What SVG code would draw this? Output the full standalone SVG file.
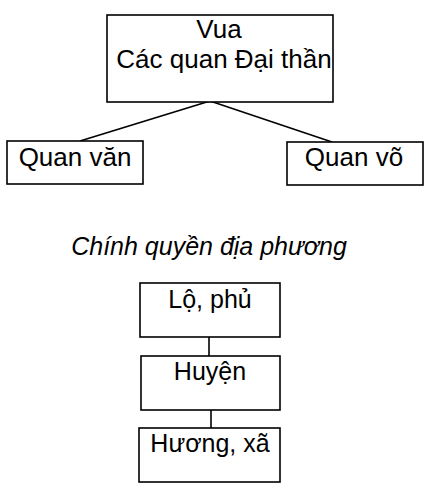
<svg xmlns="http://www.w3.org/2000/svg" width="430" height="500" viewBox="0 0 430 500">
<style>
.box{fill:#fff;stroke:#000;stroke-width:1.6}
.t{font-family:"Liberation Sans",Arial,sans-serif;font-size:25px;fill:#000;text-anchor:middle}
.lg{font-size:26px}
.i{font-style:italic}
.c{stroke:#000;stroke-width:1.6;fill:none}
</style>
<rect width="430" height="500" fill="#fff"/>
<g id="connectors">
<line class="c" x1="210" y1="101" x2="80" y2="141"/>
<line class="c" x1="210" y1="101" x2="332" y2="142"/>
<line class="c" x1="209" y1="337" x2="209" y2="356"/>
<line class="c" x1="211" y1="410" x2="211" y2="428"/>
</g>
<g id="vua">
<rect class="box" x="107" y="15" width="226" height="87"/>
<text class="t lg" x="219" y="38">Vua</text>
<text class="t lg" x="224" y="68">Các quan Đại thần</text>
</g>
<g id="quan-van">
<rect class="box" x="7" y="141" width="136" height="43"/>
<text class="t lg" x="75" y="166">Quan văn</text>
</g>
<g id="quan-vo">
<rect class="box" x="287" y="142" width="136" height="43"/>
<text class="t lg" x="354" y="166">Quan võ</text>
</g>
<g id="title">
<text class="t i" x="209" y="255">Chính quyền địa phương</text>
</g>
<g id="lo-phu">
<rect class="box" x="140" y="283" width="140" height="54"/>
<text class="t" x="210" y="308">Lộ, phủ</text>
</g>
<g id="huyen">
<rect class="box" x="141" y="356" width="139" height="54"/>
<text class="t" x="210" y="380">Huyện</text>
</g>
<g id="huong-xa">
<rect class="box" x="139" y="428" width="141" height="54"/>
<text class="t" x="210" y="452">Hương, xã</text>
</g>
</svg>
